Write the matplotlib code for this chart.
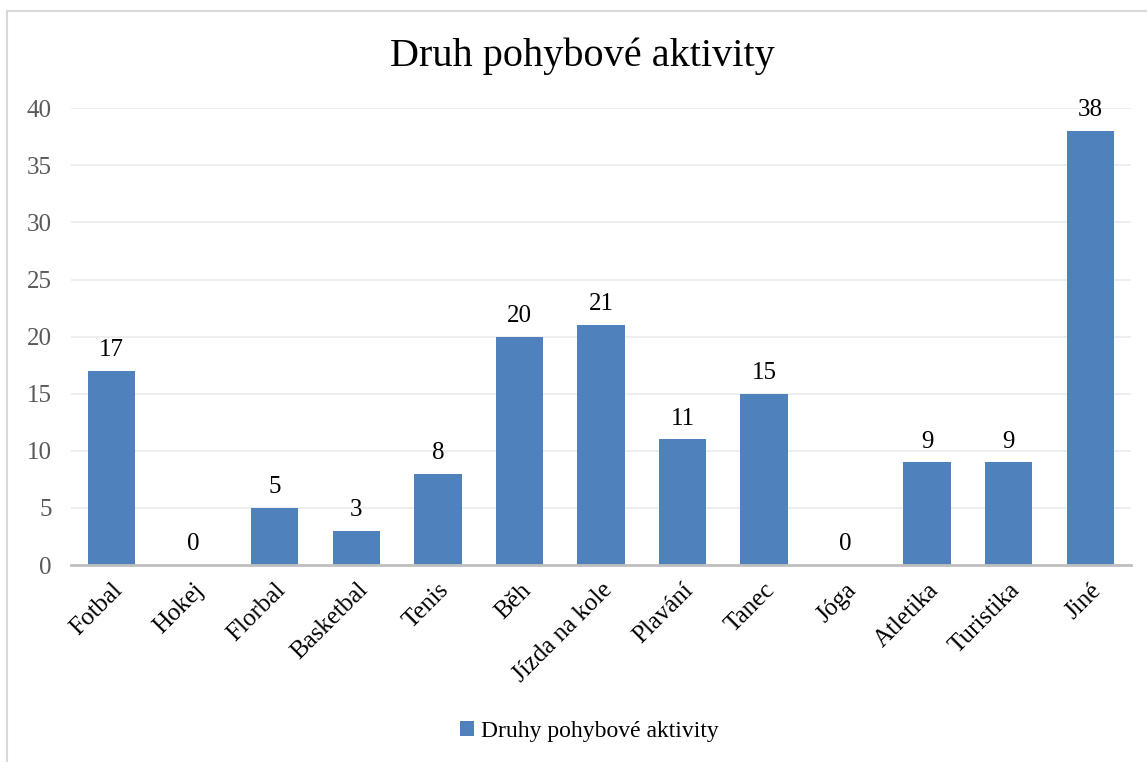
import numpy as np
import matplotlib.pyplot as plt
from matplotlib.lines import Line2D

# Data
kategorie = ["Fotbal", "Hokej", "Florbal", "Basketbal", "Tenis", "Běh",
             "Jízda na kole", "Plavání", "Tanec", "Jóga", "Atletika",
             "Turistika", "Jiné"]
pocty = [17, 0, 5, 3, 8, 20, 21, 11, 15, 0, 9, 9, 38]
y_ticks = [0, 5, 10, 15, 20, 25, 30, 35, 40]

plt.rcParams["font.family"] = ["Liberation Serif", "DejaVu Serif"]

fig = plt.figure(figsize=(11.47, 7.62), dpi=100)
ax = fig.add_axes([0.0619, 0.2585, 0.9241, 0.5995])

x = np.arange(len(kategorie))
bars = ax.bar(x, pocty, width=0.58, color="#4F81BD", zorder=3,
              label="Druhy pohybové aktivity")

# popisky hodnot nad sloupci
for rect, v in zip(bars, pocty):
    ax.annotate(str(v), (rect.get_x() + rect.get_width() / 2, v),
                xytext=(0, 7), textcoords="offset points",
                ha="center", va="bottom", fontsize=18, color="black")

ax.set_xlim(-0.5, len(kategorie) - 0.5)
ax.set_ylim(0, 40)
ax.set_yticks(y_ticks)
ax.set_yticklabels([str(t) for t in y_ticks], fontsize=18, color="#595959")
ax.set_xticks(x)
ax.set_xticklabels(kategorie, rotation=45, ha="right", rotation_mode="anchor",
                   fontsize=18, color="black")
ax.tick_params(axis="both", length=0)
ax.tick_params(axis="y", pad=14)
ax.tick_params(axis="x", pad=10)

ax.grid(axis="y", color="#EBEBEB", linewidth=1.2, zorder=0)
for s in ["top", "right", "left"]:
    ax.spines[s].set_visible(False)
ax.spines["bottom"].set_color("#BFBFBF")
ax.spines["bottom"].set_linewidth(2)
ax.spines["bottom"].set_zorder(4)

fig.text(0.508, 0.926, "Druh pohybové aktivity", ha="center", va="center",
         fontsize=29, color="black")

fig.legend(handles=[bars], labels=["Druhy pohybové aktivity"],
           loc="center", bbox_to_anchor=(0.514, 0.04), frameon=False,
           fontsize=17, handlelength=0.6, handleheight=0.6,
           handletextpad=0.3)

# rámeček grafu
fig.add_artist(Line2D([7 / 1147, 1], [1 - 11 / 762, 1 - 11 / 762],
                      color="#D9D9D9", linewidth=1.5, transform=fig.transFigure))
fig.add_artist(Line2D([7 / 1147, 7 / 1147], [0, 1 - 11 / 762],
                      color="#D9D9D9", linewidth=1.5, transform=fig.transFigure))

fig.savefig("out.png", dpi=100, facecolor="white")
